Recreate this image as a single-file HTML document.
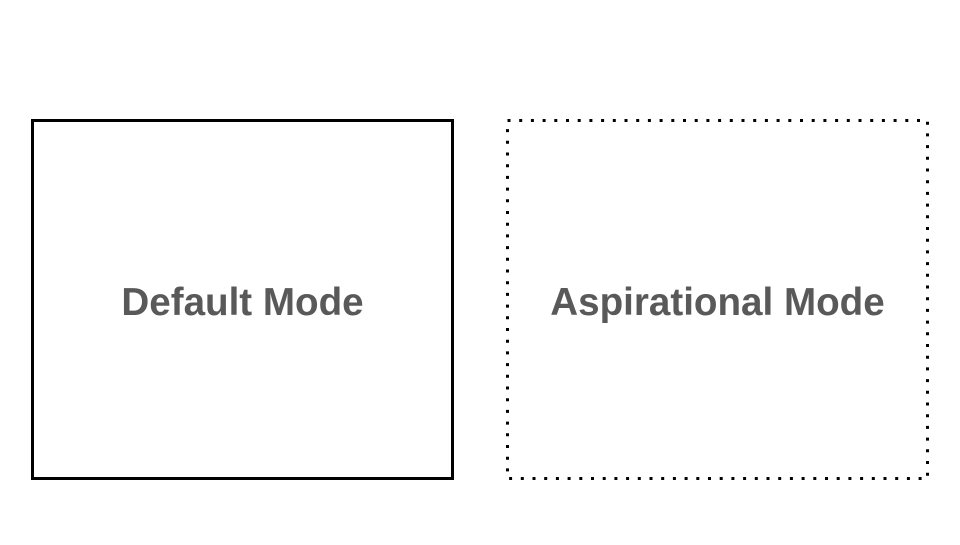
<!DOCTYPE html>
<html><head><style>
html,body{margin:0;padding:0;background:#fff;}
body{width:960px;height:540px;overflow:hidden;}
</style></head><body>
<svg width="960" height="540" xmlns="http://www.w3.org/2000/svg">
<rect x="32.5" y="120.5" width="420" height="358" fill="none" stroke="#000" stroke-width="3"/>
<rect x="507.5" y="120.5" width="420" height="358" fill="none" stroke="#000" stroke-width="3" stroke-dasharray="3,8.7"/>
<text x="242.5" y="315" text-anchor="middle" font-family="'Liberation Sans', sans-serif" font-weight="bold" font-size="38.6" fill="#595959">Default Mode</text>
<text x="717.5" y="315" text-anchor="middle" font-family="'Liberation Sans', sans-serif" font-weight="bold" font-size="38.6" fill="#595959">Aspirational Mode</text>
</svg>
</body></html>
